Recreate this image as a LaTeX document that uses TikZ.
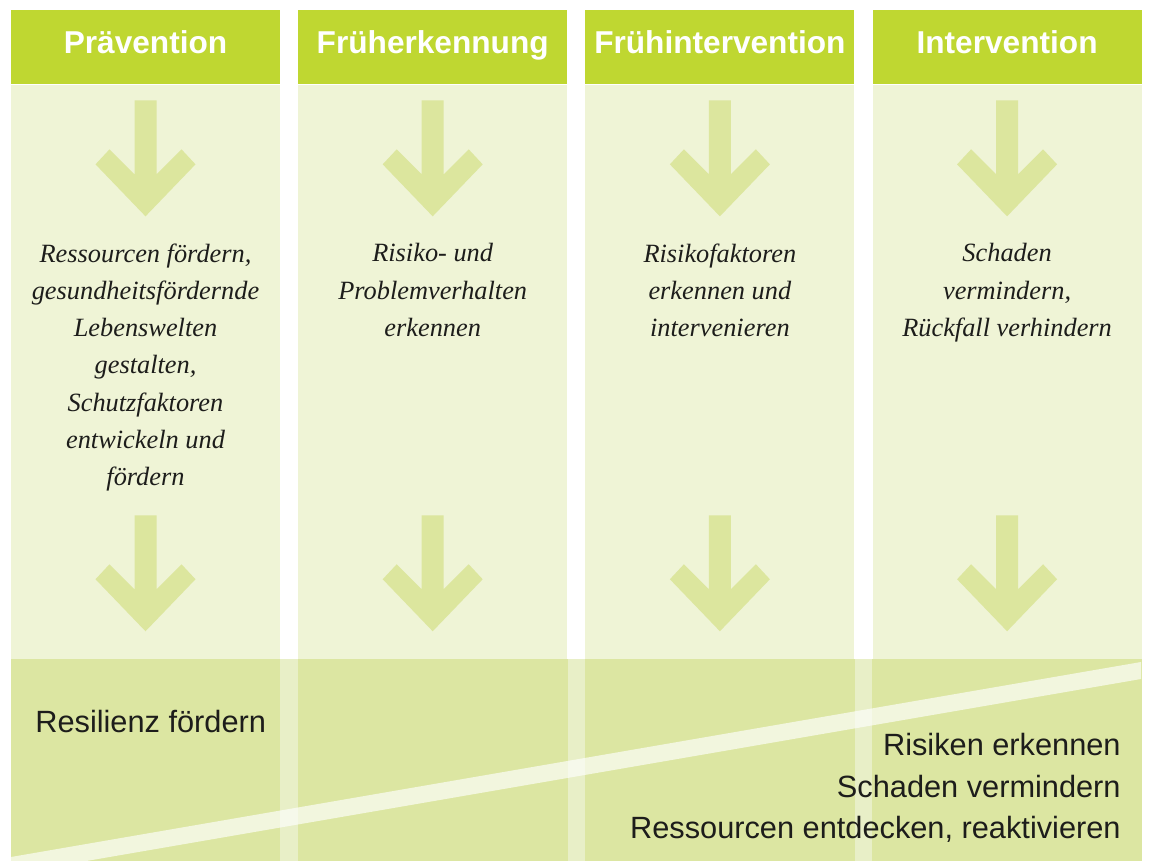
\documentclass[tikz,border=0pt]{standalone}
\usepackage{fontspec}
\setmainfont{Liberation Serif}
\setsansfont{Liberation Sans}
\usepackage{tikz}
\usetikzlibrary{positioning}

\definecolor{kopfgruen}{HTML}{BFD731}
\definecolor{spalte}{HTML}{EFF4D6}
\definecolor{pfeilgruen}{HTML}{DCE69E}
\definecolor{band}{HTML}{DCE6A2}
\definecolor{bandluecke}{HTML}{E8EFC7}
\definecolor{schrift}{HTML}{1D1D1B}

\begin{document}
\begin{tikzpicture}[x=0.02cm, y=-0.02cm, node distance=5.745cm,
	head/.style={
		rectangle,
		fill=kopfgruen, text=white,
		font=\sffamily\bfseries\fontsize{18}{20}\selectfont,
		minimum width=5.38cm, minimum height=1.48cm,
		text height=0.46cm, text depth=0.20cm,
		inner sep=0pt,
	},
	body/.style={rectangle, fill=spalte, minimum width=5.38cm, minimum height=15.54cm, inner sep=0pt, anchor=north},
	ziel/.style={font=\itshape\fontsize{15}{21.2}\selectfont, align=center, inner sep=0pt, text=schrift},
	fazit/.style={font=\sffamily\fontsize{17.5}{23.8}\selectfont, inner sep=0pt, text=schrift},
	pfeil/.pic={
		\fill[pfeilgruen] (-11,0) -- (11,0) -- (11,74) -- (36,49) -- (50,64) -- (0,116)
		-- (-50,64) -- (-36,49) -- (-11,74) -- cycle;
	},]
	\useasboundingbox (0,0) rectangle (1149,861);
	
	\node[head] (H1) at (145.5,47) {Prävention};
	\node[head, right of = H1] (H2) {Früherkennung};
	\node[head, right of = H2] (H3) {Frühintervention};
	\node[head, right of = H3] (H4) {Intervention};
	
	\node[body] (B1) at (H1.south) {};
	\node[body] (B2) at (H2.south) {};
	\node[body] (B3) at (H3.south) {};
	\node[body] (B4) at (H4.south) {};
	
	% unteres Band
	\coordinate (bt) at (0,659);
	\fill[bandluecke] (B1.south west) rectangle (B4.east |- bt);
	\fill[band] (B1.south west) rectangle (B1.east |- bt);
	\fill[band] (B2.south west) rectangle (B2.east |- bt);
	\fill[band] (B3.south west) rectangle (B3.east |- bt);
	\fill[band] (B4.south west) rectangle (B4.east |- bt);
	\begin{scope}
		\clip (B1.south west) rectangle (B4.east |- bt);
		\fill[white, opacity=.65] (11,857) -- (1141,662) -- (1141,679) -- (11,874) -- cycle;
	\end{scope}
	
	\pic at ([yshift=-0.32cm]B1.north) {pfeil};
	\pic at ([yshift=-0.32cm]B2.north) {pfeil};
	\pic at ([yshift=-0.32cm]B3.north) {pfeil};
	\pic at ([yshift=-0.32cm]B4.north) {pfeil};
	\pic at ([yshift=-8.62cm]B1.north) {pfeil};
	\pic at ([yshift=-8.62cm]B2.north) {pfeil};
	\pic at ([yshift=-8.62cm]B3.north) {pfeil};
	\pic at ([yshift=-8.62cm]B4.north) {pfeil};
	
	\node[ziel, below = 3.18cm of B1.north] (T1) {Ressourcen fördern,\\gesundheitsfördernde\\Lebenswelten\\gestalten,\\Schutzfaktoren\\entwickeln und\\fördern};
	\node[ziel, below = 3.18cm of B2.north] (T2) {Risiko- und\\Problemverhalten\\erkennen};
	\node[ziel, below = 3.18cm of B3.north] (T3) {Risikofaktoren\\erkennen und\\intervenieren};
	\node[ziel, below = 3.18cm of B4.north] (T4) {Schaden\\vermindern,\\Rückfall verhindern};
	
	\node[fazit, anchor=west] (R) at (35,722) {Resilienz fördern};
	\node[fazit, anchor=east, align=right] (S) at (1121,788) {Risiken erkennen\\Schaden vermindern\\Ressourcen entdecken, reaktivieren};
\end{tikzpicture}
\end{document}
